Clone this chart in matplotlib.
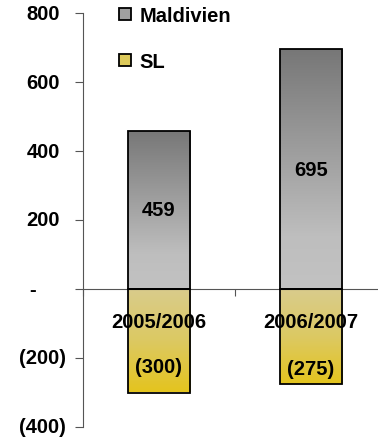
import matplotlib
matplotlib.use('Agg')
import matplotlib.pyplot as plt
import matplotlib.transforms as mtransforms
from matplotlib.colors import LinearSegmentedColormap
from matplotlib.patches import Patch
import numpy as np

plt.rc('font', family='Liberation Sans', weight='bold', size=14.5)

periods = ['2005/2006', '2006/2007']
maldivien = [459, 695]
sl = [-300, -275]
yticks = [800, 600, 400, 200, 0, -200, -400]

gray_cmap = LinearSegmentedColormap.from_list('g', [(0, '#777777'), (0.78, '#bebebe'), (1, '#c2c2c2')])
gold_cmap = LinearSegmentedColormap.from_list('y', [(0, '#d9cc8c'), (0.5, '#dcc963'), (1, '#e4c41e')])

fig = plt.figure(figsize=(3.78, 4.39), dpi=100)
ax = fig.add_axes([83 / 378, 11 / 439, 304 / 378, 414 / 439])

x = np.arange(len(periods))
width = 0.41


def gradient_bars(values, cmap):
    bars = ax.bar(x, values, width, facecolor='none', edgecolor='black', linewidth=1.3, zorder=3)
    grad = np.linspace(0, 1, 256).reshape(-1, 1)
    for b, v in zip(bars, values):
        x0, w = b.get_x(), b.get_width()
        top, bot = max(v, 0), min(v, 0)
        im = ax.imshow(grad, cmap=cmap, aspect='auto', extent=(x0, x0 + w, bot, top),
                       origin='upper', zorder=2)
        im.set_clip_path(b)
    return bars


gb = gradient_bars(maldivien, gray_cmap)
yb = gradient_bars(sl, gold_cmap)

ax.set_xlim(-0.5, 1.5)
ax.set_ylim(-400, 800)

# value labels
for xi, v in zip(x, maldivien):
    ax.text(xi, v / 2, f'{v}', ha='center', va='center', zorder=4)
for xi, v, dy in zip(x, sl, [26, 15]):
    ax.annotate(f'({-v})', (xi, v), xytext=(0, dy), textcoords='offset pixels',
                ha='center', va='center', zorder=4)

# axes styling
for s in ['top', 'right']:
    ax.spines[s].set_visible(False)
ax.spines['bottom'].set_position(('data', 0))
ax.spines['bottom'].set_color('#555555')
ax.spines['left'].set_color('#555555')
ax.xaxis.set_zorder(5)
ax.set_xticks([-0.5, 0.5, 1.5])
ax.set_xticklabels([])
ax.tick_params(axis='x', which='major', length=5, color='#555555', direction='out')
ax.set_xticks(x, minor=True)
ax.set_xticklabels(periods, minor=True)
ax.tick_params(axis='x', which='minor', length=0, pad=16.5)

ax.set_yticks(yticks)
ax.set_yticklabels([])
ax.tick_params(axis='y', length=6, color='#555555')
ytrans = ax.get_yaxis_transform()
for t in yticks:
    if t > 0:
        lab, dx, ha = f'{t}', -23, 'right'
    elif t < 0:
        lab, dx, ha = f'({-t})', -17, 'right'
    else:
        lab, dx, ha = '-', -50, 'center'
    tr = mtransforms.offset_copy(ytrans, fig=fig, x=dx, y=0, units='dots')
    ax.text(0, t, lab, transform=tr, ha=ha, va='center', clip_on=False)

handles = [Patch(facecolor='#a0a0a0', edgecolor='black', linewidth=1.3),
           Patch(facecolor='#dcc95a', edgecolor='black', linewidth=1.3)]
fig.legend(handles, ['Maldivien', 'SL'], loc='upper left',
           bbox_to_anchor=(119 / 378, 1 - 7 / 439), frameon=False,
           handlelength=0.6, handleheight=0.6, handletextpad=0.4,
           labelspacing=1.35, borderpad=0, borderaxespad=0)

plt.savefig('out.png', dpi=100)
